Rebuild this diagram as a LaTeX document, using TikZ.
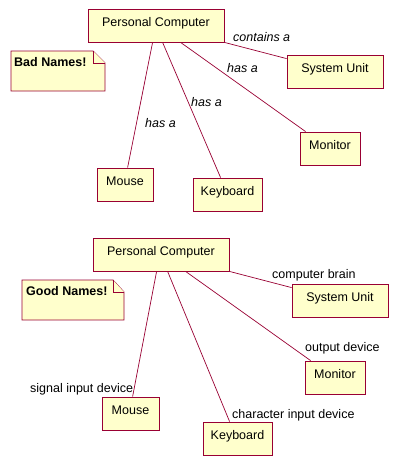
\documentclass[tikz,border=0pt]{standalone}
\usepackage{fontspec}
\setmainfont{Liberation Sans}
\usepackage{xcolor}
\usepackage{tikz}

\definecolor{umlred}{RGB}{153,0,51}
\definecolor{umlyellow}{RGB}{255,255,204}

\begin{document}
\begin{tikzpicture}[x=1pt,y=-1pt,
  font=\fontsize{12.5}{15}\selectfont,
  cls/.style={draw=umlred,fill=umlyellow,line width=0.8pt,inner xsep=0pt,inner ysep=0pt,
    text height=17pt,text depth=16pt},
  link/.style={draw=umlred,line width=0.7pt},
  role/.style={anchor=base west,inner sep=0pt},
  notebox/.style={draw=umlred,fill=umlyellow,line width=0.8pt,line join=miter}]

% Canvas
\fill[white] (0,0) rectangle (401,471);
\useasboundingbox (0,0) rectangle (401,471);

% Bad names: classes
\node[cls,minimum width=136pt] (pc1) at (156,25.5) {Personal Computer};
\node[cls,minimum width=96pt] (su1) at (335,71.5) {System Unit};
\node[cls,minimum width=60pt] (mon1) at (330,148.5) {Monitor};
\node[cls,minimum width=56pt] (mouse1) at (125,184.5) {Mouse};
\node[cls,minimum width=69pt] (kbd1) at (227.5,194.5) {Keyboard};

% Bad names: note
\draw[notebox] (11,51) -- (93,51) -- (105,63) -- (105,91) -- (11,91) -- cycle;
\draw[notebox] (93,51) -- (93,63) -- (105,63);
\node[role] (bad) at (14,66) {\textbf{Bad Names!}};

% Bad names: associations
\draw[link] (pc1.south east) -- ([yshift=-4pt]su1.north west);
\draw[link] ([xshift=93pt]pc1.south west) -- ([xshift=6pt]mon1.north west);
\draw[link] ([xshift=75pt]pc1.south west) -- ([xshift=28pt]kbd1.north west);
\draw[link] ([xshift=65pt]pc1.south west) -- ([xshift=31pt]mouse1.north west);
\node[role] (lsu1) at (233,41) {\itshape contains a};
\node[role] (lmon1) at (227,72) {\itshape has a};
\node[role] (lkbd1) at (191,106) {\itshape has a};
\node[role] (lmouse1) at (145,127) {\itshape has a};

% Good names: classes
\node[cls,minimum width=136pt] (pc2) at (161,254.5) {Personal Computer};
\node[cls,minimum width=96pt] (su2) at (340,300.5) {System Unit};
\node[cls,minimum width=60pt] (mon2) at (335,377.5) {Monitor};
\node[cls,minimum width=57pt] (mouse2) at (130.5,413.5) {Mouse};
\node[cls,minimum width=69pt] (kbd2) at (237.5,438.5) {Keyboard};

% Good names: note
\draw[notebox] (22,280) -- (113,280) -- (124,292) -- (124,320) -- (22,320) -- cycle;
\draw[notebox] (113,280) -- (113,292) -- (124,292);
\node[role] (good) at (26,295) {\textbf{Good Names!}};

% Good names: associations
\draw[link] (pc2.south east) -- ([yshift=-4pt]su2.north west);
\draw[link] ([xshift=93pt]pc2.south west) -- ([xshift=6pt]mon2.north west);
\draw[link] ([xshift=75pt]pc2.south west) -- ([xshift=27pt]kbd2.north west);
\draw[link] ([xshift=64pt]pc2.south west) -- ([xshift=31pt]mouse2.north west);
\node[role] (lsu2) at (272,278) {computer brain};
\node[role] (lmon2) at (305,351.5) {output device};
\node[role] (lmouse2) at (30,392.5) {signal input device};
\node[role] (lkbd2) at (232,418) {character input device};

\end{tikzpicture}
\end{document}
